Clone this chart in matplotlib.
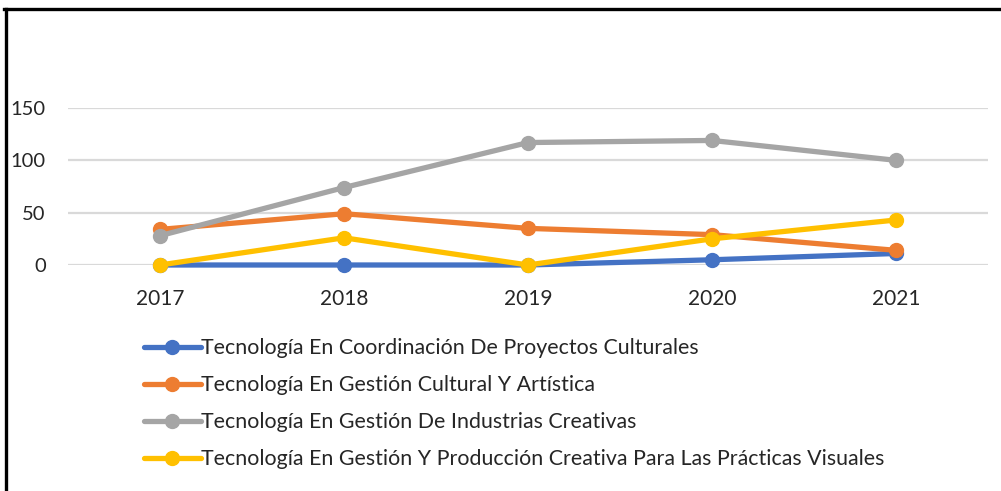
import matplotlib.pyplot as plt
from matplotlib.lines import Line2D

years = ['2017', '2018', '2019', '2020', '2021']
coordinacion = [0, 0, 0, 5, 11]
gestion_cultural = [34, 49, 35, 29, 14]
industrias = [28, 74, 117, 119, 100]
produccion = [0, 26, 0, 25, 43]

labels = [
    'Tecnología En Coordinación De Proyectos Culturales',
    'Tecnología En Gestión Cultural Y Artística',
    'Tecnología En Gestión De Industrias Creativas',
    'Tecnología En Gestión Y Producción Creativa Para Las Prácticas Visuales',
]
colors = ['#4472c4', '#ed7d31', '#a5a5a5', '#ffc000']

plt.rcParams['font.family'] = ['Lato', 'DejaVu Sans']

fig = plt.figure(figsize=(10.01, 4.91), dpi=100)
ax = fig.add_axes([68 / 1001, 1 - 265 / 491, 920 / 1001, 157 / 491])

x = range(len(years))
series = [coordinacion, gestion_cultural, industrias, produccion]
for i, (vals, col, lab) in enumerate(zip(series, colors, labels)):
    ax.plot(x, vals, color=col, lw=3.8, marker='o', ms=10, label=lab,
            zorder=3 + i, clip_on=False, solid_capstyle='round')

ax.set_xlim(-0.5, len(years) - 0.5)
ax.set_ylim(0, 150)
ax.set_yticks([0, 50, 100, 150])
ax.set_xticks(list(x))
ax.set_xticklabels(years)
ax.grid(axis='y', color='#d9d9d9', lw=1.6)
ax.set_axisbelow(True)
for s in ax.spines.values():
    s.set_visible(False)
ax.tick_params(length=0, labelsize=15, colors='#262626')
ax.tick_params(axis='y', pad=16, labelsize=14.5)
ax.tick_params(axis='x', pad=17)

leg = ax.legend(loc='upper left', bbox_to_anchor=(144 / 1001, 1 - 338 / 491),
                bbox_transform=fig.transFigure, frameon=False, fontsize=15.4,
                handlelength=2.65, handletextpad=0.0, labelspacing=0.8,
                borderaxespad=0, borderpad=0)
for t in leg.get_texts():
    t.set_color('#262626')

# frame edges along the top and left
fig.add_artist(Line2D([4 / 1001, 1], [1 - 9 / 491, 1 - 9 / 491], color='black', lw=2.4))
fig.add_artist(Line2D([6 / 1001, 6 / 1001], [0, 1 - 9 / 491], color='black', lw=2.4))

fig.savefig('out.png', dpi=100)
